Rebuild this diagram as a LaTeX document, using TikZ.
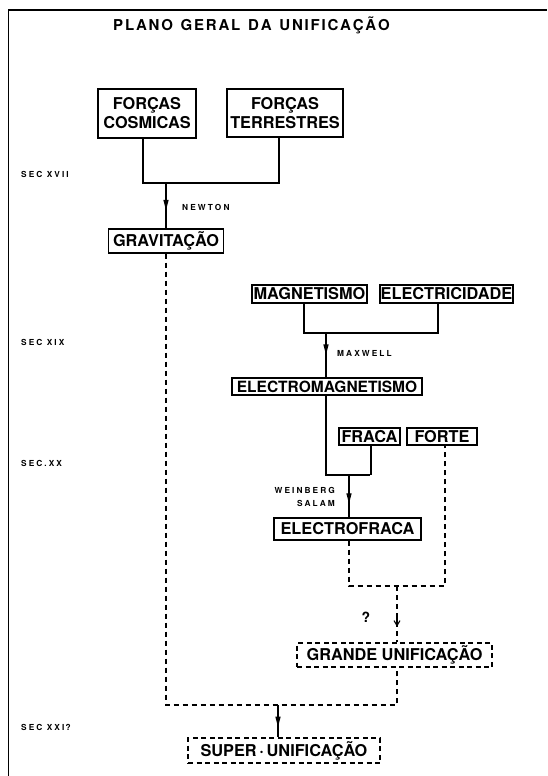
\documentclass[tikz,border=0pt]{standalone}
\usepackage{fontspec}
\setmainfont{TeX Gyre Heros}
\newfontfamily\boxf{TeX Gyre Heros}
\newfontfamily\lblf{TeX Gyre Heros}[LetterSpace=25]
\usetikzlibrary{arrows.meta,calc}
\newcommand\mylsp{\kern1.8pt}
\tikzset{
  box/.style={draw, line width=1.4pt, inner sep=0pt, align=center,
    font=\boxf\bfseries\fontsize{16.3}{19}\selectfont},
  dbox/.style={box, line width=1.1pt, dash pattern=on 5pt off 3.5pt},
  conn/.style={line width=1.3pt},
  dconn/.style={line width=1.2pt, dash pattern=on 5pt off 4pt},
  lbl/.style={inner sep=0pt, font=\lblf\bfseries\fontsize{8.3}{13}\selectfont},
  farr/.style={conn, -{Latex[length=13pt,width=5.5pt]}},
  oarr/.style={line width=1.1pt, -{Straight Barb[length=5pt,width=6pt]}},
  frame/.style={line width=1.3pt}
}
\begin{document}
\begin{tikzpicture}[x=1pt,y=-1pt]
\useasboundingbox (0,0) rectangle (547,776);
\fill[white] (0,0) rectangle (547,776);
\draw[frame] (8.5,776) -- (8.5,10) -- (547,10);

\node[inner sep=0pt, font=\bfseries\fontsize{15}{17}\selectfont] (title) at (251.5,25)
  {P\mylsp L\mylsp A\mylsp N\mylsp O\mylsp\ \mylsp G\mylsp E\mylsp R\mylsp A\mylsp L\mylsp\ \mylsp D\mylsp A\mylsp\ \mylsp U\mylsp N\mylsp I\mylsp F\mylsp I\mylsp C\mylsp A\mylsp Ç\mylsp Ã\mylsp O};

% boxes
\node[box, minimum width=98pt, minimum height=49pt] (cosm) at (147,113.5) {FORÇAS\\COSMICAS};
\node[box, minimum width=116pt, minimum height=48pt] (terr) at (285,113) {FORÇAS\\TERRESTRES};
\node[box, minimum width=115pt, minimum height=24pt] (grav) at (166,241) {GRAVITAÇÃO};
\node[box, minimum width=115pt, minimum height=18pt] (mag) at (309.5,294) {MAGNETISMO};
\node[box, minimum width=133pt, minimum height=18pt] (elec) at (446.5,294) {ELECTRICIDADE};
\node[box, minimum width=190pt, minimum height=17pt, font=\boxf\bfseries\fontsize{15.5}{19}\selectfont] (em) at (327,386.5) {ELECTROMAGNETISMO};
\node[box, minimum width=61pt, minimum height=17pt] (fraca) at (369.5,436.5) {FRACA};
\node[box, minimum width=70pt, minimum height=17pt] (forte) at (442,436.5) {FORTE};
\node[box, minimum width=147pt, minimum height=22pt] (ef) at (347.5,529) {ELECTROFRACA};
\node[dbox, minimum width=195pt, minimum height=24pt] (grande) at (394.5,655) {GRANDE UNIFICAÇÃO};
\node[dbox, minimum width=192pt, minimum height=25pt] (super) at (284,750.5) {SUPER\,·\,UNIFICAÇÃO};

% labels
\node[lbl, anchor=west] (s17) at (21,174) {SEC XVII};
\node[lbl, anchor=west] (s19) at (21,342) {SEC XIX};
\node[lbl, anchor=west] (s20) at (21,463) {SEC.XX};
\node[lbl, anchor=west] (s21) at (21,727) {SEC XXI\,?};
\node[lbl, anchor=west] (newton) at (182,207) {NEWTON};
\node[lbl, anchor=west] (maxwell) at (337,353) {MAXWELL};
\node[lbl, anchor=east, align=right] (ws) at (335,497) {WEINBERG\\SALAM};
\node[inner sep=0pt, font=\bfseries\fontsize{14}{16}\selectfont] (q) at (366,617) {?};

% junctions
\coordinate (j1) at (166,183);
\coordinate (j2) at (326,333);
\coordinate (j3) at (349,475);
\coordinate (j4) at (397,586);
\coordinate (j5) at (278,705);

% connectors
\draw[conn] ([xshift=-4pt]cosm.south) |- (j1) -| ([xshift=-6pt]terr.south);
\draw[conn] (j1) -- (j1 |- grav.north);
\draw[farr] (j1) -- ($(j1)!0.66!(j1 |- grav.north)$);

\draw[conn] ([xshift=-5.5pt]mag.south) |- (j2) -| ([xshift=-8.5pt]elec.south);
\draw[conn] (j2) -- (j2 |- em.north);
\draw[farr] (j2) -- ($(j2)!0.55!(j2 |- em.north)$);

\draw[conn] ([xshift=-1pt]em.south) |- (j3) -- (j3 -| fraca.south);
\draw[line width=2.8pt] ([xshift=1.5pt]fraca.south) -- ([xshift=1.5pt]fraca.south |- j3);
\draw[conn] (j3) -- (j3 |- ef.north);
\draw[farr] (j3) -- ($(j3)!0.74!(j3 |- ef.north)$);

\draw[dconn] ([xshift=1.5pt]ef.south) |- (j4) -| ([xshift=3pt]forte.south);
\draw[dconn] (j4) -- (j4 |- grande.north);
\draw[oarr] ($(j4)!0.5!(j4 |- grande.north)$) -- ($(j4)!0.72!(j4 |- grande.north)$);

\draw[dconn] (grav.south) |- (j5) -| ([xshift=2.5pt]grande.south);
\draw[conn] (j5) -- (j5 |- super.north);
\draw[farr] (j5) -- ($(j5)!0.76!(j5 |- super.north)$);
\end{tikzpicture}
\end{document}
